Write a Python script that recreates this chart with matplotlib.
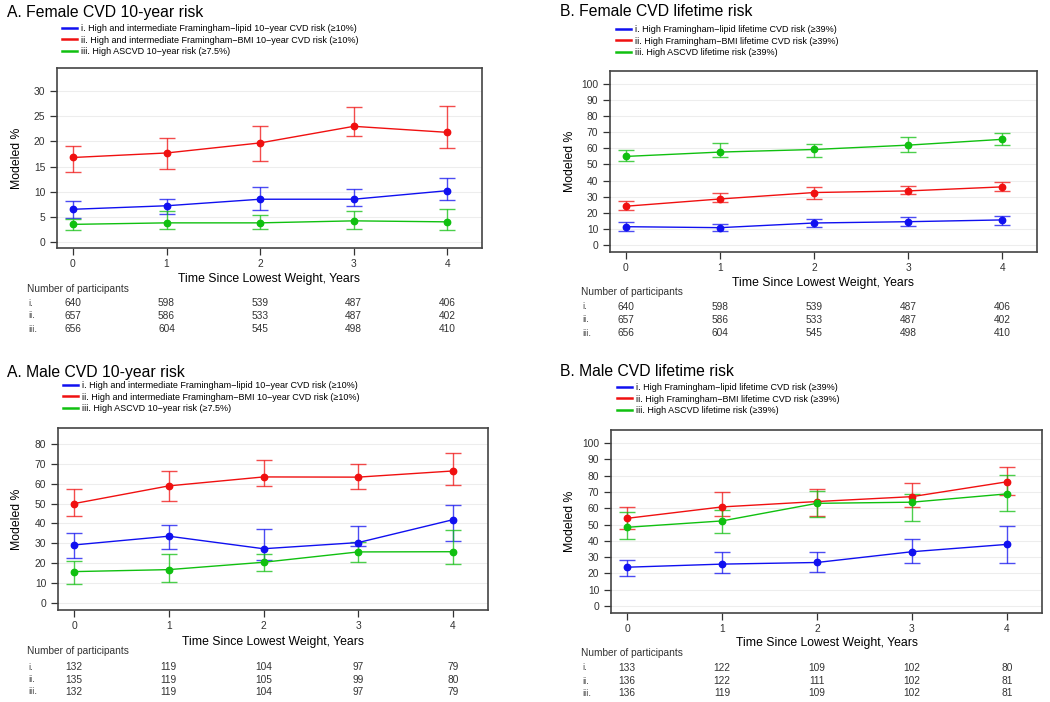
import matplotlib
matplotlib.use("Agg")
import matplotlib.pyplot as plt
import matplotlib.transforms as mtransforms
from matplotlib.lines import Line2D

plt.rcParams['font.family'] = ['Liberation Sans', 'DejaVu Sans']

W, H = 1050, 702
years = [0, 1, 2, 3, 4]
row_tags = ['i.', 'ii.', 'iii.']

# --- data ---
# female 10-year risk
f10_lipid = [6.5, 7.2, 8.5, 8.5, 10.2]
f10_lipid_lo = [4.8, 5.6, 6.4, 7.2, 8.3]
f10_lipid_hi = [8.1, 8.6, 11.0, 10.5, 12.7]
f10_bmi = [16.8, 17.7, 19.7, 23.0, 21.8]
f10_bmi_lo = [14.0, 14.5, 16.2, 21.1, 18.6]
f10_bmi_hi = [19.1, 20.6, 23.1, 26.8, 27.1]
f10_ascvd = [3.5, 3.8, 3.8, 4.2, 4.0]
f10_ascvd_lo = [2.3, 2.5, 2.6, 2.6, 2.3]
f10_ascvd_hi = [4.6, 6.2, 5.3, 6.2, 6.6]
f10_n = [[640, 598, 539, 487, 406],
         [657, 586, 533, 487, 402],
         [656, 604, 545, 498, 410]]

# female lifetime risk
flt_lipid = [11.4, 10.8, 13.7, 14.5, 15.6]
flt_lipid_lo = [8.9, 8.9, 11.2, 12.0, 12.4]
flt_lipid_hi = [14.3, 12.9, 16.4, 17.2, 17.8]
flt_bmi = [24.1, 28.6, 32.6, 33.6, 36.1]
flt_bmi_lo = [22.0, 26.8, 28.4, 31.5, 33.8]
flt_bmi_hi = [27.4, 32.4, 36.3, 36.5, 39.4]
flt_ascvd = [55.0, 57.7, 59.3, 62.0, 65.6]
flt_ascvd_lo = [51.9, 54.4, 54.8, 57.7, 62.0]
flt_ascvd_hi = [58.9, 63.1, 62.7, 67.0, 69.3]
flt_n = [[640, 598, 539, 487, 406],
         [657, 586, 533, 487, 402],
         [656, 604, 545, 498, 410]]

# male 10-year risk
m10_lipid = [29.2, 33.6, 27.3, 30.4, 41.9]
m10_lipid_lo = [22.5, 27.2, 21.8, 28.5, 31.0]
m10_lipid_hi = [35.4, 39.3, 37.1, 38.6, 49.3]
m10_bmi = [50.0, 58.9, 63.4, 63.3, 66.4]
m10_bmi_lo = [44.0, 51.2, 58.6, 57.4, 59.2]
m10_bmi_hi = [57.2, 66.3, 72.0, 70.1, 75.5]
m10_ascvd = [15.8, 16.8, 20.5, 25.7, 25.8]
m10_ascvd_lo = [9.6, 10.7, 15.9, 20.5, 19.6]
m10_ascvd_hi = [21.0, 24.5, 24.5, 30.5, 36.7]
m10_n = [[132, 119, 104, 97, 79],
         [135, 119, 105, 99, 80],
         [132, 119, 104, 97, 79]]

# male lifetime risk
mlt_lipid = [23.8, 25.7, 26.7, 33.3, 37.8]
mlt_lipid_lo = [18.7, 20.5, 20.9, 26.5, 26.1]
mlt_lipid_hi = [28.5, 32.9, 33.3, 41.1, 49.3]
mlt_bmi = [53.8, 60.8, 64.1, 67.1, 76.2]
mlt_bmi_lo = [47.5, 55.0, 55.2, 60.6, 68.2]
mlt_bmi_hi = [61.0, 69.8, 71.7, 75.2, 85.0]
mlt_ascvd = [48.3, 52.2, 63.0, 63.7, 68.8]
mlt_ascvd_lo = [41.1, 45.0, 54.8, 52.2, 58.3]
mlt_ascvd_hi = [57.9, 59.1, 70.8, 68.8, 80.3]
mlt_n = [[133, 122, 109, 102, 80],
         [136, 122, 111, 102, 81],
         [136, 119, 109, 102, 81]]

labels_10 = ['i. High and intermediate Framingham\u2212lipid 10\u2212year CVD risk (\u226510%)',
             'ii. High and intermediate Framingham\u2212BMI 10\u2212year CVD risk (\u226510%)',
             'iii. High ASCVD 10\u2212year risk (\u22657.5%)']
labels_lt = ['i. High Framingham\u2212lipid lifetime CVD risk (\u226539%)',
             'ii. High Framingham\u2212BMI lifetime CVD risk (\u226539%)',
             'iii. High ASCVD lifetime risk (\u226539%)']

colors = ['#1010f0', '#f01010', '#10c010']

fig = plt.figure(figsize=(W / 100, H / 100), dpi=100)


def fy(y):
    return 1 - y / H


def panel(box, ylim, yticks, title, title_xy, labels, leg_xy, series, counts,
          ylab_x, tick_y, xlab_y, nop_y, rows_y, tag_x):
    x0, y0, x1, y1 = box
    ax = fig.add_axes([x0 / W, 1 - y1 / H, (x1 - x0) / W, (y1 - y0) / H])
    for yt in yticks:
        ax.axhline(yt, color='#ededed', lw=0.8, zorder=0)
    for (m, lo, hi), c in zip(series, colors):
        err = [[mm - l for mm, l in zip(m, lo)], [h - mm for mm, h in zip(m, hi)]]
        ax.errorbar(years, m, yerr=err, fmt='none', ecolor=c, elinewidth=1.0,
                    capsize=5.5, capthick=1.0, alpha=0.75, zorder=2)
        ax.plot(years, m, color=c, lw=1.0, zorder=3)
        ax.plot(years, m, 'o', color=c, ms=4.6, zorder=4)
    ax.set_xlim(-0.17, 4.37)
    ax.set_ylim(*ylim)
    ax.set_xticks(years)
    ax.set_yticks(yticks)
    ax.tick_params(labelsize=7.4, colors='#333333', length=5, width=0.9)
    ax.tick_params(axis='x', pad=3)
    for s in ax.spines.values():
        s.set_color('#444444')
        s.set_linewidth(1.2)
    # axis labels
    fig.text(ylab_x / W, fy((y0 + y1) / 2), 'Modeled %', rotation=90,
             ha='center', va='center', fontsize=8.8)
    fig.text((x0 + x1) / 2 / W, fy(xlab_y), 'Time Since Lowest Weight, Years',
             ha='center', va='center', fontsize=8.8)
    fig.text(title_xy[0] / W, fy(title_xy[1]), title, ha='left', va='center',
             fontsize=11.3)
    handles = [Line2D([], [], color=c, lw=1.8) for c in colors]
    ax.legend(handles, labels, loc='upper left',
              bbox_to_anchor=(leg_xy[0] / W, fy(leg_xy[1])),
              bbox_transform=fig.transFigure, frameon=False, fontsize=6.5,
              borderpad=0, borderaxespad=0, handlelength=1.65,
              handletextpad=0.4, labelspacing=0.28)
    # participant table
    fig.text(tag_x / W, fy(nop_y), 'Number of participants', ha='left',
             va='center', fontsize=7.3, color='#333333')
    trans = mtransforms.blended_transform_factory(ax.transData, fig.transFigure)
    for tag, row, ry in zip(row_tags, counts, rows_y):
        fig.text(tag_x / W + 0.001, fy(ry), tag, ha='left', va='center',
                 fontsize=6.8, color='#555555')
        for xv, n in zip(years, row):
            ax.text(xv, fy(ry), str(n), transform=trans, ha='center',
                    va='center', fontsize=7.3, color='#333333')
    return ax


panel((57, 68, 482, 248), (-1.2, 34.6), [0, 5, 10, 15, 20, 25, 30],
      'A. Female CVD 10-year risk', (7, 12), labels_10, (62, 24),
      [(f10_lipid, f10_lipid_lo, f10_lipid_hi),
       (f10_bmi, f10_bmi_lo, f10_bmi_hi),
       (f10_ascvd, f10_ascvd_lo, f10_ascvd_hi)], f10_n,
      17, 265, 279, 289, [303, 316, 329], 27)

panel((610, 71, 1037, 252), (-4.3, 108), list(range(0, 101, 10)),
      'B. Female CVD lifetime risk', (560, 12), labels_lt, (616, 25),
      [(flt_lipid, flt_lipid_lo, flt_lipid_hi),
       (flt_bmi, flt_bmi_lo, flt_bmi_hi),
       (flt_ascvd, flt_ascvd_lo, flt_ascvd_hi)], flt_n,
      570, 268, 283, 292, [307, 320, 333], 581)

panel((58, 428, 488, 610), (-3.5, 88), list(range(0, 81, 10)),
      'A. Male CVD 10-year risk', (7, 372), labels_10, (63, 381),
      [(m10_lipid, m10_lipid_lo, m10_lipid_hi),
       (m10_bmi, m10_bmi_lo, m10_bmi_hi),
       (m10_ascvd, m10_ascvd_lo, m10_ascvd_hi)], m10_n,
      17, 627, 642, 651, [667, 680, 692], 27)

panel((611, 430, 1042, 613), (-4.3, 108), list(range(0, 101, 10)),
      'B. Male CVD lifetime risk', (560, 372), labels_lt, (617, 383),
      [(mlt_lipid, mlt_lipid_lo, mlt_lipid_hi),
       (mlt_bmi, mlt_bmi_lo, mlt_bmi_hi),
       (mlt_ascvd, mlt_ascvd_lo, mlt_ascvd_hi)], mlt_n,
      570, 628, 643, 653, [668, 681, 693], 581)

fig.savefig('out.png', dpi=100)
